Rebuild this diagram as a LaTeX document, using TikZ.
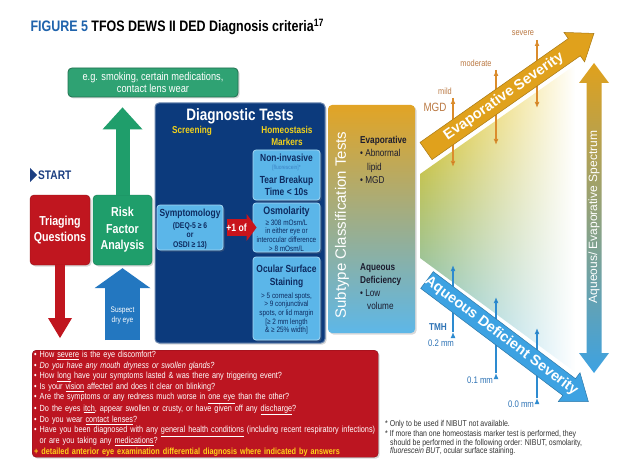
\documentclass[tikz,border=0pt]{standalone}
\usepackage{fontspec}
\setmainfont{Liberation Sans}[FakeStretch=0.82]
\newfontfamily\widefont{Liberation Sans}
\usepackage{tikz}
\usetikzlibrary{arrows.meta,fadings,shadows}

\definecolor{figblue}{HTML}{1F63AC}
\definecolor{startblue}{HTML}{1C3F82}
\definecolor{triagered}{HTML}{C0161F}
\definecolor{riskgreen}{HTML}{1F9E6B}
\definecolor{factgreen}{HTML}{2FA273}
\definecolor{suspblue}{HTML}{2377C0}
\definecolor{testnavy}{HTML}{0C3A7C}
\definecolor{testblue}{HTML}{5BB6E9}
\definecolor{navytext}{HTML}{0E2B60}
\definecolor{testyellow}{HTML}{F1D11C}
\definecolor{fluoblue}{HTML}{3B82C4}
\definecolor{plusred}{HTML}{C8141C}
\definecolor{suborange}{HTML}{E2A425}
\definecolor{submid}{HTML}{D4B56E}
\definecolor{subblue}{HTML}{5DB7E8}
\definecolor{subtext}{HTML}{1C1C2E}
\definecolor{qred}{HTML}{BC1521}
\definecolor{qyellow}{HTML}{FFD21A}
\definecolor{notegray}{HTML}{333333}
\definecolor{evorange}{HTML}{E0A11C}
\definecolor{aqblue}{HTML}{3DA2E2}
\definecolor{sevline}{HTML}{DB8C2C}
\definecolor{sevtext}{HTML}{BB7A44}
\definecolor{tmhline}{HTML}{2D8BD0}
\definecolor{tmhtext}{HTML}{2F74B6}
\definecolor{triyellow}{HTML}{F5C400}
\definecolor{trimid}{HTML}{DDDB9A}
\definecolor{triblue}{HTML}{6CC4EE}

\tikzstyle{box}=[rounded corners=4pt, align=center, inner sep=0pt, drop shadow={opacity=0.3,shadow xshift=1.5pt,shadow yshift=-1.5pt}]
\tikzstyle{redbox}=[box, fill=triagered, draw=triagered!75!black, text=white, font=\fontsize{13}{16}\selectfont\bfseries]
\tikzstyle{greenbox}=[box, fill=riskgreen, draw=riskgreen!75!black, text=white, font=\fontsize{13}{16.5}\selectfont\bfseries]
\tikzstyle{testbox}=[box, rounded corners=3pt, fill=testblue, draw=testblue!55!white, line width=0.8pt, minimum width=67pt]
\tikzstyle{testhead}=[text=navytext, align=center, font=\fontsize{10.3}{12.5}\selectfont\bfseries]
\tikzstyle{testsmall}=[text=navytext, align=center, font=\fontsize{7.8}{8.6}\selectfont]
\tikzstyle{blockarrow}=[line cap=butt]
\tikzstyle{sevarrow}=[draw=sevline, line width=1.2pt, -{Latex[length=6pt,width=5pt]}]
\tikzstyle{tmharrow}=[draw=tmhline, line width=1.2pt, -{Latex[length=6pt,width=5pt]}]
\tikzstyle{sevlabel}=[text=sevtext, font=\fontsize{9}{10}\selectfont]
\tikzstyle{tmhlabel}=[text=tmhtext, font=\fontsize{9.5}{10}\selectfont]

\begin{document}
\begin{tikzpicture}[x=1pt, y=-1pt]
	\useasboundingbox (0,0) rectangle (631,473);
	\fill[white] (0,0) rectangle (631,473);

	\begin{scope}
		\node[anchor=base west, font=\fontsize{15.2}{17}\selectfont\bfseries] (title) at (27,32) {\textcolor{figblue}{FIGURE 5} TFOS DEWS II DED Diagnosis criteria\textsuperscript{17}};

		\node[box, fill=factgreen, draw=factgreen!70!black, line width=0.8pt, text=white, minimum width=170pt, minimum height=29pt, font=\fontsize{11.3}{12.5}\selectfont] (factors) at (153,82.5) {e.g. smoking, certain medications,\\contact lens wear};

		\fill[startblue] (30,168) -- (37,175) -- (30,182) -- cycle;
		\node[anchor=west, inner sep=1pt, text=startblue, font=\fontsize{12.4}{14}\selectfont\bfseries] (start) at (37,175) {START};

		\node[redbox, minimum width=60pt, minimum height=70pt] (triage) at (60,230) {Triaging\\Questions};
		\node[greenbox, minimum width=59pt, minimum height=70pt] (risk) at (122.5,230) {Risk\\Factor\\Analysis};
		\coordinate (susp) at (122.5,340);

		% diagnostic tests
		\node[box, fill=testnavy, draw=testnavy!60!white, line width=1pt, minimum width=170pt, minimum height=240pt] (tests) at (240,223) {};
		\node[text=white, font=\fontsize{16.5}{18}\selectfont\bfseries] (teststitle) at (240,116) {Diagnostic Tests};
		\node[text=testyellow, font=\fontsize{10}{12}\selectfont\bfseries] (screen) at (192,131) {Screening};
		\node[text=testyellow, align=center, font=\fontsize{10}{12}\selectfont\bfseries] (markers) at (287,136) {Homeostasis\\Markers};

		\node[testbox, minimum width=66pt, minimum height=45pt] (symp) at (190,227.5) {};
		\node[testhead] (symptxt) at (190,214) {Symptomology};
		\node[testsmall, font=\fontsize{8.3}{9.5}\selectfont\bfseries] (sympval) at (190,235.5) {(DEQ-5 ≥ 6\\or\\OSDI ≥ 13)};

		\node[testbox, minimum height=50pt] (nibut) at (286.5,175) {};
		\node[testhead] (nibuttxt) at (286.5,158) {Non-invasive};
		\node[text=fluoblue, font=\fontsize{6}{7}\selectfont] (fluo) at (286.5,168) {[fluorescein]*};
		\node[testhead] (nibutval) at (286.5,186) {Tear Breakup\\Time < 10s};

		\node[testbox, minimum height=49pt] (osm) at (286.5,227.5) {};
		\node[testhead, font=\fontsize{10.8}{12.5}\selectfont\bfseries] (osmtxt) at (286.5,212) {Osmolarity};
		\node[testsmall] (osmval) at (286.5,235.5) {≥ 308 mOsm/L\\in either eye or\\interocular difference\\> 8 mOsm/L};

		\node[testbox, minimum height=83pt] (oss) at (286.5,298.5) {};
		\node[testhead, font=\fontsize{10.3}{13}\selectfont\bfseries] (osstxt) at (286.5,276.5) {Ocular Surface\\Staining};
		\node[testsmall] (ossval) at (286.5,313.5) {> 5 corneal spots,\\> 9 conjunctival\\spots, or lid margin\\{[}≥ 2 mm length\\\& ≥ 25\% width{]}};

		% subtype
		\node[box, top color=suborange, middle color=submid, bottom color=subblue, minimum width=87pt, minimum height=228pt] (subtype) at (371.5,219) {};
		\node[rotate=90, text=white, font=\widefont\fontsize{15}{17}\selectfont] (subtypetxt) at (342,225) {Subtype Classification Tests};
		\node[anchor=north west, align=left, inner sep=0pt, text=subtext, font=\fontsize{10}{13.3}\selectfont] (evapitems) at (360,136) {\textbf{Evaporative}\\\textbullet\ Abnormal\\\hspace*{7pt}lipid\\\textbullet\ MGD};
		\node[anchor=north west, align=left, inner sep=0pt, text=subtext, font=\fontsize{10}{13}\selectfont] (aqitems) at (360,263) {\textbf{Aqueous}\\\textbf{Deficiency}\\\textbullet\ Low\\\hspace*{7pt}volume};

		% questions and notes
		\node[box, anchor=north west, fill=qred, draw=qred!70!black, text=white, minimum width=346pt, minimum height=107pt, text width=342pt, align=left, font=\fontsize{8.9}{10.2}\selectfont] (questions) at (32,350) {%
			\textbullet\ How \underline{severe} is the eye discomfort?\\
			\textbullet\ \textit{Do you have any mouth dryness or swollen glands?}\\
			\textbullet\ How \underline{long} have your symptoms lasted \& was there any triggering event?\\
			\textbullet\ Is your \underline{vision} affected and does it clear on blinking?\\
			\textbullet\ Are the symptoms or any redness much worse in \underline{one eye} than the other?\\
			\textbullet\ Do the eyes \underline{itch}, appear swollen or crusty, or have given off any \underline{discharge}?\\
			\textbullet\ Do you wear \underline{contact lenses}?\\
			\textbullet\ Have you been diagnosed with any \underline{general health conditions} (including recent respiratory infections)\\
			\phantom{\textbullet\ }or are you taking any \underline{medications}?\\
			{\color{qyellow}\bfseries + detailed anterior eye examination differential diagnosis where indicated by answers}};
		\node[anchor=north west, align=left, inner sep=0pt, text=notegray, font=\fontsize{8.5}{8.6}\selectfont] (notes) at (385,420) {* Only to be used if NIBUT not available.\\[1.5pt]* If more than one homeostasis marker test is performed, they\\\hspace*{5pt}should be performed in the following order: NIBUT, osmolarity,\\\hspace*{5pt}\textit{fluorescein BUT}, ocular surface staining.};
	\end{scope}

	\begin{scope}
		\path [blockarrow, color=riskgreen, line width=14pt, -{Triangle[width=40pt,length=22pt,line width=0pt]}, shorten >=10pt] (risk.north) edge (risk.north |- factors.south);
		\path [blockarrow, color=triagered, line width=10pt, -{Triangle[width=24pt,length=20pt,line width=0pt]}, shorten >=12pt] (triage.south) edge (triage.south |- questions.north);
		\path [blockarrow, color=suspblue, line width=35pt, -{Triangle[width=56pt,length=20pt,line width=0pt]}, shorten >=3pt] (susp) edge (risk.south);
		\node[text=white, align=center, font=\fontsize{8}{10}\selectfont] (susptxt) at (122.5,316) {Suspect\\dry eye};
		\path [blockarrow, color=plusred, line width=17pt, -{Triangle[width=27pt,length=10pt,line width=0pt]}, shorten <=4pt, shorten >=-4pt] (symp.east) edge node[pos=0.45, text=white, font=\fontsize{10.5}{12}\selectfont\bfseries] (plusone) {+1 of} (osm.west);
	\end{scope}

	% severity triangle
	\begin{scope}
		\shade[top color=triyellow, middle color=trimid, bottom color=triblue, path fading=east] (420,174) -- (575,65) -- (575,372) -- (420,258) -- cycle;

		\node[sevlabel] (mild) at (445,91) {mild};
		\node[sevlabel, font=\fontsize{12}{13}\selectfont] (mgd) at (435,107) {MGD};
		\node[sevlabel] (moderate) at (476,63) {moderate};
		\node[sevlabel] (severe) at (523,33) {severe};
		\coordinate (m1) at (453,98);  \coordinate (m2) at (453,167);
		\coordinate (d1) at (496,70);  \coordinate (d2) at (496,145);
		\coordinate (s1) at (537,40);  \coordinate (s2) at (537,108);
		\path [sevarrow] (m1) edge (m2);
		\path [sevarrow] (d1) edge (d2);
		\path [sevarrow] (s1) edge (s2);

		\node[tmhlabel, font=\fontsize{10}{11}\selectfont\bfseries] (tmh) at (438,327) {TMH};
		\node[tmhlabel] (tmh2) at (441,343) {0.2 mm};
		\node[tmhlabel] (tmh1) at (480,380) {0.1 mm};
		\node[tmhlabel] (tmh0) at (521,404) {0.0 mm};
		\coordinate (t1) at (453,332);  \coordinate (t2) at (453,265);
		\coordinate (u1) at (496,373);  \coordinate (u2) at (496,297);
		\coordinate (v1) at (537,398);  \coordinate (v2) at (537,328);
		\path [tmharrow] (t1) edge (t2);
		\path [tmharrow] (u1) edge (u2);
		\path [tmharrow] (v1) edge (v2);
	\end{scope}

	\begin{scope}[shift={(426,151)}, rotate=35]
		\fill[evorange, draw=evorange!75!black, line width=0.5pt] (0,-10.5) -- (181,-10.5) -- (181,-18) -- (205,0) -- (181,18) -- (181,10.5) -- (0,10.5) -- cycle;
		\node[rotate=35, text=white, font=\widefont\fontsize{14.5}{15}\selectfont\bfseries] (evap) at (95,0) {Evaporative Severity};
	\end{scope}
	\begin{scope}[shift={(427,280)}, rotate=-37]
		\fill[aqblue, draw=aqblue!75!black, line width=0.5pt] (0,-10.5) -- (178,-10.5) -- (178,-18) -- (202,0) -- (178,18) -- (178,10.5) -- (0,10.5) -- cycle;
		\node[rotate=-37, text=white, font=\widefont\fontsize{14.5}{15}\selectfont\bfseries] (aqdef) at (93,0) {Aqueous Deficient Severity};
	\end{scope}

	\shade[top color=evorange, middle color=submid, bottom color=aqblue] (594,63) -- (609,83) -- (601.5,83) -- (601.5,353) -- (609,353) -- (594,373) -- (579,353) -- (586.5,353) -- (586.5,83) -- (579,83) -- cycle;
	\node[rotate=90, text=white, font=\widefont\fontsize{12}{13}\selectfont] (spectrum) at (594,217) {Aqueous/ Evaporative Spectrum};
\end{tikzpicture}
\end{document}
